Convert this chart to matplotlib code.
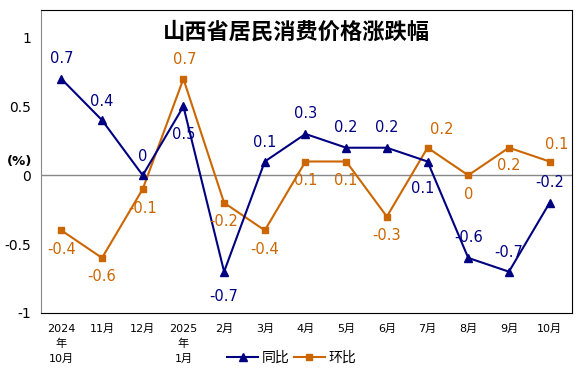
import numpy as np
import matplotlib.pyplot as plt

plt.rcParams['font.family'] = ['DejaVu Sans', 'Noto Sans CJK SC']

months = ['2024\n年\n10月', '11月', '12月', '2025\n年\n1月', '2月', '3月', '4月',
          '5月', '6月', '7月', '8月', '9月', '10月']
yoy = [0.7, 0.4, 0, 0.5, -0.7, 0.1, 0.3, 0.2, 0.2, 0.1, -0.6, -0.7, -0.2]
mom = [-0.4, -0.6, -0.1, 0.7, -0.2, -0.4, 0.1, 0.1, -0.3, 0.2, 0, 0.2, 0.1]

# label offsets in pixels (dx, dy)
yoy_off = [(0, 20), (0, 19), (0, 19), (0, -28), (0, -25), (0, 19), (0, 20),
           (0, 20), (0, 20), (-5, -27), (0, 20), (0, 19), (0, 20)]
mom_off = [(0, -19), (0, -19), (0, -19), (1, 19), (0, -19), (0, -19), (0, -19),
           (0, -19), (0, -19), (14, 18), (0, -19), (0, -18), (7, 17)]

blue = '#000080'
orange = '#CC6600'

fig = plt.figure(figsize=(5.86, 3.82), dpi=100)
ax = fig.add_axes([41/586, 69/382, 531/586, 303/382])
x = np.arange(len(months))

ax.axhline(0, color='#888888', lw=1, zorder=1)
ax.plot(x, yoy, color=blue, lw=1.5, marker='^', ms=6, label='同比', zorder=3)
ax.plot(x, mom, color=orange, lw=1.5, marker='s', ms=4.5, label='环比', zorder=2)

def fmt(v):
    return '0' if v == 0 else f'{v:g}'

for i, v in enumerate(yoy):
    ax.annotate(fmt(v), (i, v), xytext=yoy_off[i], textcoords='offset pixels',
                ha='center', va='center', color=blue, fontsize=10.5)
for i, v in enumerate(mom):
    ax.annotate(fmt(v), (i, v), xytext=mom_off[i], textcoords='offset pixels',
                ha='center', va='center', color=orange, fontsize=10.5)

ax.set_xlim(-0.5, 12.55)
ax.set_ylim(-1, 1.2)
ax.set_yticks([-1, -0.5, 0, 0.5, 1])
ax.set_yticklabels(['-1', '-0.5', '0', '0.5', '1'], fontsize=10)
ax.set_xticks(x)
ax.set_xticklabels(months, fontsize=8, linespacing=1.55)
ax.tick_params(length=0, pad=7)
ax.tick_params(axis='x', pad=8)
for s in ['top', 'right', 'bottom']:
    ax.spines[s].set_color('black')
ax.spines['left'].set_color('#888888')

fig.text(20/586, 1 - 161/382, '(%)', fontsize=9.5, fontweight='bold',
         ha='center', va='center')
fig.text(296/586, 1 - 32/382, '山西省居民消费价格涨跌幅', fontsize=16,
         fontweight='bold', ha='center', va='center', family=['Noto Sans CJK SC'])

leg = fig.legend(loc='center', bbox_to_anchor=(292/586, 1 - 358/382), ncol=2,
                 frameon=False, prop={'family': 'Noto Sans CJK SC', 'size': 10},
                 handlelength=2.2, handletextpad=0.3, columnspacing=0.3)

fig.savefig('out.png', dpi=100)
